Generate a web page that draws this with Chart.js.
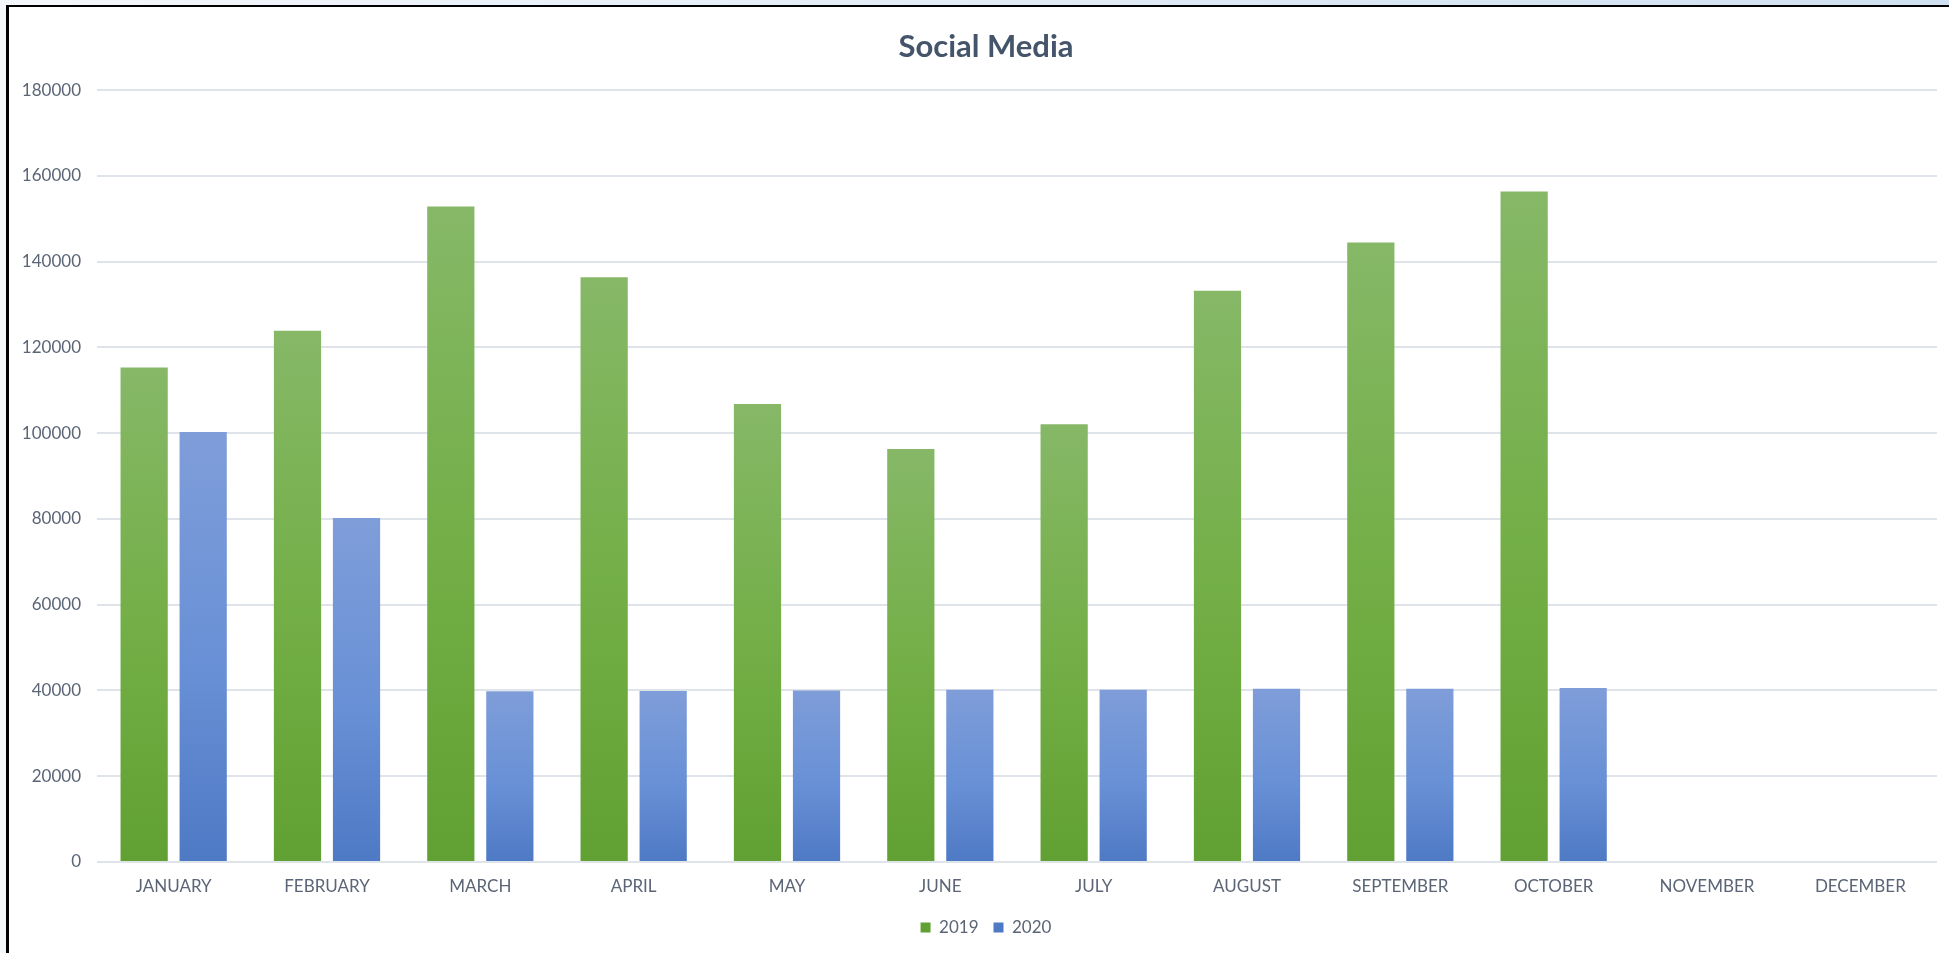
<!DOCTYPE html>
<html lang="en">
<head>
  <meta charset="utf-8" />
  <title>Social Media</title>
  <script src="https://cdn.jsdelivr.net/npm/chart.js@4.4.1/dist/chart.umd.min.js"></script>
  <style>
    html, body {
      margin: 0;
      width: 1949px;
      height: 953px;
      overflow: hidden;
      background: linear-gradient(to right, #f4f7fb, #cfe0f0);
    }
    #frame {
      position: absolute;
      left: 6px;
      top: 5px;
      width: 1954px;
      height: 948px;
      border-left: 3px solid #000;
      border-top: 2px solid #000;
      background: #fff;
    }
    #chart { display: block; }
  </style>
</head>
<body>

<div id="frame">
  <canvas id="chart" width="1954" height="946"></canvas>
</div>

<script>
// Chart data
const months = ['JANUARY', 'FEBRUARY', 'MARCH', 'APRIL', 'MAY', 'JUNE',
                'JULY', 'AUGUST', 'SEPTEMBER', 'OCTOBER', 'NOVEMBER', 'DECEMBER'];
const values2019 = [115300, 123900, 152900, 136400, 106800, 96300,
                    102100, 133200, 144500, 156400, null, null];
const values2020 = [100300, 80200, 39800, 39900, 40000, 40200,
                    40200, 40400, 40400, 40600, null, null];
const yTicks = [0, 20000, 40000, 60000, 80000, 100000, 120000, 140000, 160000, 180000];

// gradient stops, top -> bottom of each bar
const greenStops = ['#86b867', '#72ae45', '#61a032'];
const blueStops  = ['#7f9dd9', '#6890d6', '#4e79c4'];

const textColor = '#5b6576';

/**
 * barFill
 * Builds a vertical gradient for each bar, running from the bar's top to the zero line.
 */
function barFill(stops, solid) {
  return (ctx) => {
    const chart = ctx.chart;
    const y = chart.scales.y;
    if (!chart.chartArea || !y || ctx.raw == null) return solid;
    const top = y.getPixelForValue(ctx.raw);
    const bottom = y.getPixelForValue(0);
    if (!isFinite(top) || top === bottom) return solid;
    const g = chart.ctx.createLinearGradient(0, top, 0, bottom);
    g.addColorStop(0, stops[0]);
    g.addColorStop(0.55, stops[1]);
    g.addColorStop(1, stops[2]);
    return g;
  };
}

Chart.defaults.font.family = "Lato, 'Open Sans', sans-serif";
Chart.defaults.color = textColor;

window.addEventListener('load', () => {
  const ctx = document.getElementById('chart').getContext('2d');
  new Chart(ctx, {
    type: 'bar',
    data: {
      labels: months,
      datasets: [
        {
          label: '2019',
          data: values2019,
          backgroundColor: barFill(greenStops, '#70ad47'),
          categoryPercentage: 0.77,
          barPercentage: 0.8
        },
        {
          label: '2020',
          data: values2020,
          backgroundColor: barFill(blueStops, '#5b86d2'),
          categoryPercentage: 0.77,
          barPercentage: 0.8
        }
      ]
    },
    options: {
      responsive: false,
      animation: false,
      layout: { padding: { left: 0, right: 0, top: 0, bottom: 7 } },
      plugins: {
        title: {
          display: true,
          text: 'Social Media',
          color: '#44546a',
          font: { size: 31, weight: 'bold' },
          padding: { top: 21, bottom: 25 }
        },
        legend: {
          position: 'bottom',
          labels: {
            boxWidth: 10,
            boxHeight: 10,
            padding: 15,
            color: textColor,
            font: { size: 17 }
          }
        },
        tooltip: { enabled: false }
      },
      scales: {
        x: {
          grid: { display: false },
          border: { display: false },
          ticks: { padding: 6, color: textColor, font: { size: 17 }, maxRotation: 0 },
          afterFit: (s) => { s.height = 42; }
        },
        y: {
          min: 0,
          max: 180000,
          grid: { color: '#dfe3ea', lineWidth: 2, drawTicks: false },
          border: { display: false },
          ticks: {
            stepSize: 20000,
            padding: 16,
            color: textColor,
            font: { size: 17 },
            callback: (v) => String(v)
          },
          afterBuildTicks: (s) => { s.ticks = yTicks.map(v => ({ value: v })); },
          afterFit: (s) => { s.width = 88; }
        },
        // empty right-hand axis, only to leave the right margin
        yRight: {
          type: 'linear',
          position: 'right',
          grid: { display: false },
          border: { display: false },
          ticks: { display: false },
          afterFit: (s) => { s.width = 26; }
        }
      }
    }
  });
});
</script>

</body>
</html>
